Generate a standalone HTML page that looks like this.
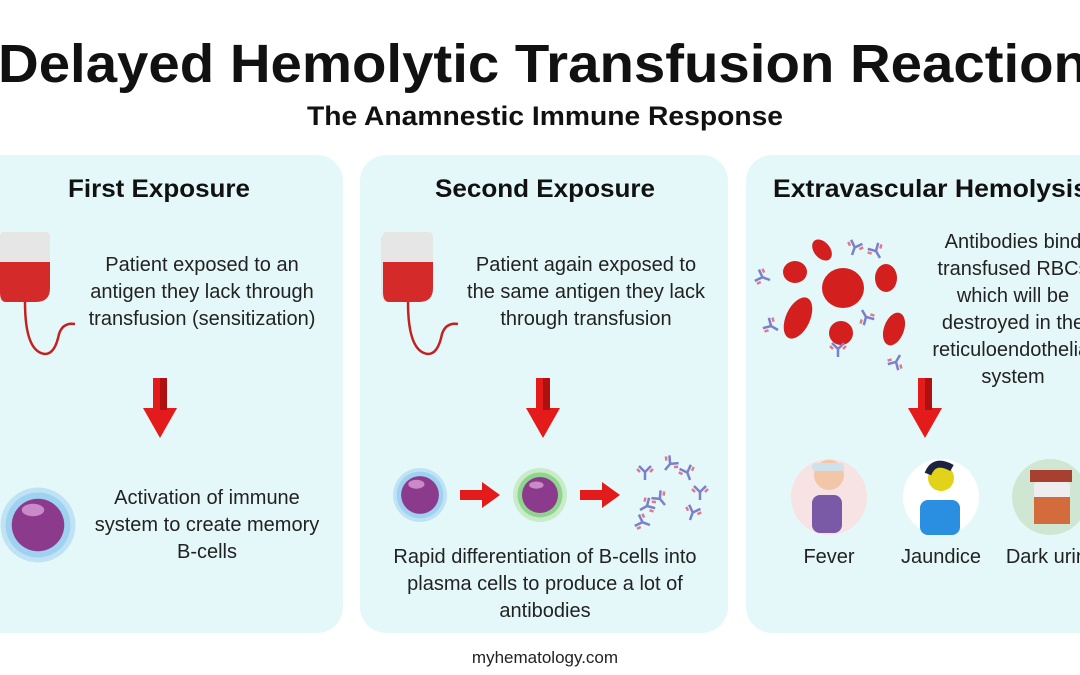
<!DOCTYPE html>
<html><head><meta charset="utf-8"><style>
html,body{margin:0;padding:0;background:#fff;}
svg{display:block;font-family:"Liberation Sans",sans-serif;}
</style></head><body>
<svg width="1080" height="675" viewBox="0 0 1080 675" xmlns="http://www.w3.org/2000/svg">
<defs>
<g id="arrow"><rect x="-7" y="0" width="14" height="32" fill="#e31b1b"/><polygon points="-17,30 17,30 0,60" fill="#e31b1b"/><rect x="0" y="0" width="7" height="32" fill="#b01010"/></g>
<g id="cell"><circle r="30" fill="#bfe3f5"/><circle r="26" fill="#9fd2f0"/><circle r="21" fill="#8b3a8c"/><ellipse cx="-4" cy="-12" rx="9" ry="5" fill="#c98ac7"/></g>
<g id="ab" stroke-width="2.5" fill="none"><path d="M0,0 L0,-8 L-6,-14 M0,-8 L6,-14" stroke="#7d7fc9"/><path d="M-8,-11 l3,3 M8,-11 l-3,3" stroke="#e07a8a"/></g>
</defs>
<text x="543" y="82" font-size="54" font-weight="bold" text-anchor="middle" textLength="1090" lengthAdjust="spacingAndGlyphs" fill="#111">Delayed Hemolytic Transfusion Reaction</text>
<text x="545" y="125" font-size="27" font-weight="bold" text-anchor="middle" textLength="476" lengthAdjust="spacingAndGlyphs" fill="#111">The Anamnestic Immune Response</text>

<rect x="-30" y="155" width="373" height="478" rx="26" fill="#e5f8f9"/>
<rect x="360" y="155" width="368" height="478" rx="26" fill="#e5f8f9"/>
<rect x="746" y="155" width="380" height="478" rx="26" fill="#e5f8f9"/>

<g font-weight="bold" font-size="25" fill="#111">
<text x="68" y="197" textLength="182" lengthAdjust="spacingAndGlyphs">First Exposure</text>
<text x="435" y="197" textLength="220" lengthAdjust="spacingAndGlyphs">Second Exposure</text>
<text x="773" y="197" textLength="315" lengthAdjust="spacingAndGlyphs">Extravascular Hemolysis</text>
</g>

<g font-size="20" fill="#222" text-anchor="middle">
<text x="202" y="271">Patient exposed to an</text>
<text x="202" y="298">antigen they lack through</text>
<text x="202" y="325">transfusion (sensitization)</text>
<text x="207" y="504">Activation of immune</text>
<text x="207" y="531">system to create memory</text>
<text x="207" y="558">B-cells</text>
<text x="586" y="271">Patient again exposed to</text>
<text x="586" y="298">the same antigen they lack</text>
<text x="586" y="325">through transfusion</text>
<text x="545" y="563">Rapid differentiation of B-cells into</text>
<text x="545" y="590">plasma cells to produce a lot of</text>
<text x="545" y="617">antibodies</text>
<text x="1013" y="248">Antibodies bind</text>
<text x="1013" y="275">transfused RBCs</text>
<text x="1013" y="302">which will be</text>
<text x="1013" y="329">destroyed in the</text>
<text x="1013" y="356">reticuloendothelial</text>
<text x="1013" y="383">system</text>
<text x="829" y="563">Fever</text>
<text x="941" y="563">Jaundice</text>
<text x="1052" y="563">Dark urine</text>
</g>
<text x="545" y="663" font-size="17" text-anchor="middle" fill="#222">myhematology.com</text>

<use href="#arrow" x="160" y="378"/>
<use href="#arrow" x="543" y="378"/>
<use href="#arrow" x="925" y="378"/>

<g>
<path d="M2,232 h44 q4,0 4,6 v50 q0,14 -14,14 h-30 q-8,0 -8,-10 v-54 z" fill="#e6e6e6"/>
<path d="M0,262 h50 v26 q0,14 -14,14 h-30 q-6,0 -6,-10 z" fill="#d42a2a"/>
<path d="M25,302 q0,50 20,52 q10,0 14,-20 q4,-12 16,-10" stroke="#c42020" stroke-width="2.5" fill="none"/>
</g>
<g transform="translate(383,0)">
<path d="M2,232 h44 q4,0 4,6 v50 q0,14 -14,14 h-30 q-8,0 -8,-10 v-54 z" fill="#e6e6e6"/>
<path d="M0,262 h50 v26 q0,14 -14,14 h-30 q-6,0 -6,-10 z" fill="#d42a2a"/>
<path d="M25,302 q0,50 20,52 q10,0 14,-20 q4,-12 16,-10" stroke="#c42020" stroke-width="2.5" fill="none"/>
</g>

<g transform="translate(38,525) scale(1.25)"><use href="#cell"/></g>
<g transform="translate(420,495) scale(0.9)"><use href="#cell"/></g>
<g transform="translate(540,495) scale(0.9)"><circle r="30" fill="#c8ecc8"/><circle r="25" fill="#8fd48f"/><circle r="20" fill="#8b3a8c"/><ellipse cx="-4" cy="-11" rx="8" ry="4" fill="#c98ac7"/></g>
<g fill="#e31b1b"><rect x="460" y="490" width="24" height="10"/><polygon points="482,482 500,495 482,508"/>
<rect x="580" y="490" width="24" height="10"/><polygon points="602,482 620,495 602,508"/></g>
<g>
<use href="#ab" transform="translate(645,480)"/><use href="#ab" transform="translate(665,470) rotate(40)"/><use href="#ab" transform="translate(690,480) rotate(-20)"/><use href="#ab" transform="translate(700,500)"/><use href="#ab" transform="translate(640,510) rotate(60)"/><use href="#ab" transform="translate(665,505) rotate(-40)"/><use href="#ab" transform="translate(690,520) rotate(20)"/><use href="#ab" transform="translate(650,525) rotate(-70)"/>
</g>

<g fill="#d41f1f">
<ellipse cx="843" cy="288" rx="21" ry="20"/>
<ellipse cx="795" cy="272" rx="12" ry="11"/>
<ellipse cx="822" cy="250" rx="8" ry="12" transform="rotate(-40 822 250)"/>
<ellipse cx="886" cy="278" rx="11" ry="14"/>
<ellipse cx="798" cy="318" rx="12" ry="22" transform="rotate(25 798 318)"/>
<ellipse cx="841" cy="333" rx="12" ry="12"/>
<ellipse cx="894" cy="329" rx="10" ry="17" transform="rotate(20 894 329)"/>
</g>
<g><use href="#ab" transform="translate(770,280) rotate(-70)"/><use href="#ab" transform="translate(852,255) rotate(20)"/><use href="#ab" transform="translate(880,258) rotate(-30)"/><use href="#ab" transform="translate(862,310) rotate(150)"/><use href="#ab" transform="translate(838,357)"/><use href="#ab" transform="translate(778,330) rotate(-60)"/><use href="#ab" transform="translate(900,355) rotate(-150)"/></g>

<circle cx="829" cy="497" r="38" fill="#f7e3e3"/>
<rect x="812" y="495" width="30" height="38" rx="8" fill="#7a5aa6"/>
<circle cx="829" cy="475" r="15" fill="#f1c7a8"/><rect x="812" y="463" width="32" height="8" rx="3" fill="#cfe1ea"/>
<circle cx="941" cy="497" r="38" fill="#ffffff"/>
<rect x="920" y="500" width="40" height="35" rx="8" fill="#2a8fe0"/>
<circle cx="941" cy="478" r="13" fill="#e2d21a"/><path d="M928,474 q6,-16 24,-6" stroke="#1b2340" stroke-width="7" fill="none"/>
<circle cx="1050" cy="497" r="38" fill="#cfe7d2"/>
<rect x="1030" y="470" width="42" height="12" fill="#a8402f"/>
<rect x="1034" y="482" width="36" height="42" rx="4" fill="#eee"/>
<rect x="1034" y="497" width="36" height="27" fill="#d46b3c"/>
</svg>
</body></html>
